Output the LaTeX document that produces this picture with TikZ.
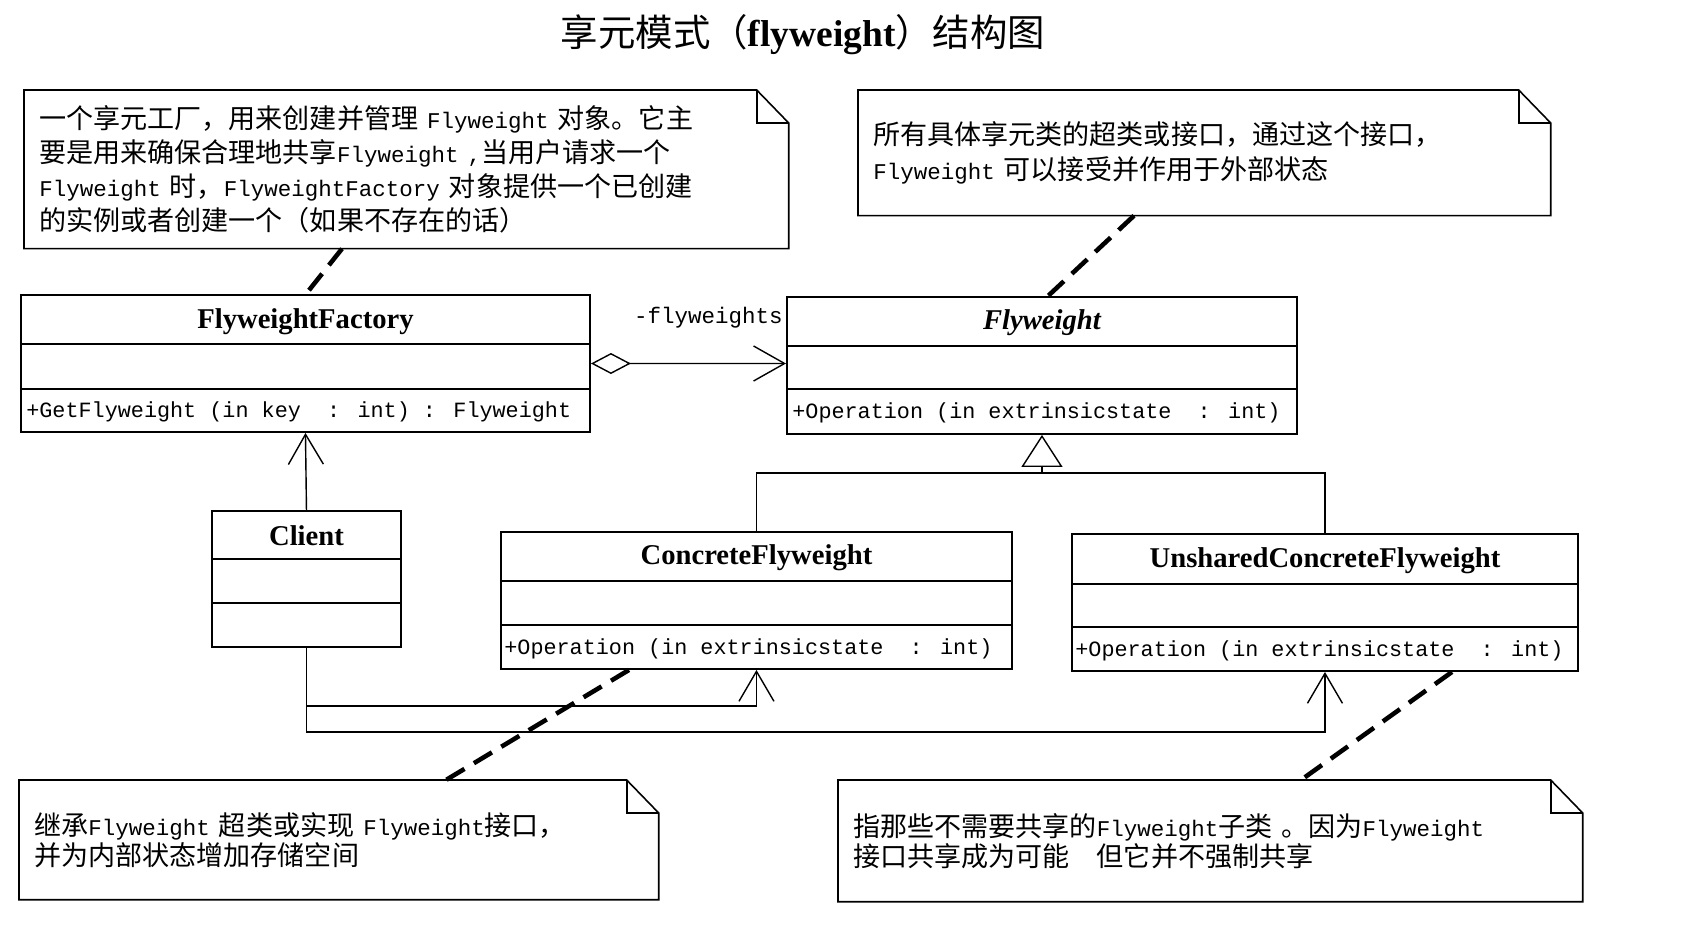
\documentclass[tikz,border=0pt]{standalone}
\usepackage{fontspec}
\setmainfont{Liberation Serif}
\newfontfamily\cjk{Noto Sans CJK SC}
\newfontfamily\monof{Liberation Mono}
\usetikzlibrary{arrows.meta,calc}
\newcommand\lat[1]{{\monof\fontsize{12.8pt}{12.8pt}\selectfont#1}}
\newcommand\dogear[1]{\draw[notefrm]($(#1.north east)+(-.64,0)$)--(#1.north west)--(#1.south west)--(#1.south east)--($(#1.north east)+(0,-.66)$)--cycle;\draw[notefrm]($(#1.north east)+(-.64,0)$)|-($(#1.north east)+(0,-.66)$);}
\tikzset{
 classbox/.style={draw,line width=1.1pt,anchor=north west,minimum height=2.74cm,inner sep=0pt},
 divline/.style={line width=1.1pt},
 cname/.style={font=\fontsize{16.3pt}{18pt}\selectfont\bfseries,inner sep=0pt},
 optext/.style={font=\monof\fontsize{12.4pt}{14pt}\selectfont,anchor=west,inner sep=0pt},
 notebox/.style={anchor=north west,inner xsep=.3cm,inner ysep=0pt,align=left,font=\cjk\fontsize{15.4pt}{#1}\selectfont},
 notefrm/.style={line width=.9pt},
 notelink/.style={line width=2.6pt,dash pattern=on .42cm off .22cm},
 conn/.style={line width=.8pt},
 barb/.style={-{Straight Barb[length=.6cm,width=.7cm]}},
}
\begin{document}
\begin{tikzpicture}
\useasboundingbox(0,0)rectangle(33.72,-18.62);
\node[font=\fontsize{21.3pt}{24pt}\selectfont](ttl)at(16.06,-.69){{\cjk 享元模式（}\textbf{flyweight}{\cjk ）结构图}};
% notes
\node[notebox=19.2pt,text width=14.68cm,minimum width=15.28cm,minimum height=3.16cm](nA)at(.48,-1.8){一个享元工厂，用来创建并管理~\lat{Flyweight}~对象。它主\\要是用来确保合理地共享\lat{Flyweight~,}当用户请求一个\\\lat{Flyweight}~时，\lat{FlyweightFactory}~对象提供一个已创建\\的实例或者创建一个（如果不存在的话）};\dogear{nA}
\node[notebox=19.4pt,text width=13.24cm,minimum width=13.84cm,minimum height=2.5cm](nB)at(17.16,-1.8){所有具体享元类的超类或接口，通过这个接口，\\\lat{Flyweight}~可以接受并作用于外部状态};\dogear{nB}
\node[notebox=17pt,text width=12.18cm,minimum width=12.78cm,minimum height=2.38cm](nC)at(.38,-15.6){继承\lat{Flyweight}~超类或实现~\lat{Flyweight}接口，\\并为内部状态增加存储空间};\dogear{nC}
\node[notebox=17pt,text width=14.28cm,minimum width=14.88cm,minimum height=2.42cm](nD)at(16.76,-15.6){指那些不需要共享的\lat{Flyweight}子类~。因为\lat{Flyweight}\\接口共享成为可能　但它并不强制共享};\dogear{nD}
% classes
\node[classbox,minimum width=11.38cm](fac)at(.4,-5.88){};
\draw[divline]($(fac.north west)+(0,-1)$)--($(fac.north east)+(0,-1)$)($(fac.north west)+(0,-1.9)$)--($(fac.north east)+(0,-1.9)$);
\node[cname](facN)at($(fac.north)+(0,-.56)$){FlyweightFactory};
\node[optext](facO)at($(fac.south west)+(.12,.42)$){+GetFlyweight (in key~~: int) : Flyweight};
\node[classbox,minimum width=10.2cm](fw)at(15.72,-5.92){};
\draw[divline]($(fw.north west)+(0,-1)$)--($(fw.north east)+(0,-1)$)($(fw.north west)+(0,-1.86)$)--($(fw.north east)+(0,-1.86)$);
\node[cname](fwN)at($(fw.north)+(0,-.54)$){\itshape Flyweight};
\node[optext](fwO)at($(fw.south west)+(.12,.44)$){+Operation (in extrinsicstate~~: int)};
\node[classbox,minimum width=3.78cm,minimum height=2.72cm](cl)at(4.22,-10.2){};
\draw[divline]($(cl.north west)+(0,-.98)$)--($(cl.north east)+(0,-.98)$)($(cl.north west)+(0,-1.86)$)--($(cl.north east)+(0,-1.86)$);
\node[cname](clN)at($(cl.north)+(0,-.52)$){Client};
\node[classbox,minimum width=10.22cm](cf)at(10,-10.62){};
\draw[divline]($(cf.north west)+(0,-1)$)--($(cf.north east)+(0,-1)$)($(cf.north west)+(0,-1.88)$)--($(cf.north east)+(0,-1.88)$);
\node[cname](cfN)at($(cf.north)+(0,-.54)$){ConcreteFlyweight};
\node[optext](cfO)at($(cf.south west)+(.08,.43)$){+Operation (in extrinsicstate~~: int)};
\node[classbox,minimum width=10.12cm](ucf)at(21.42,-10.66){};
\draw[divline]($(ucf.north west)+(0,-1.02)$)--($(ucf.north east)+(0,-1.02)$)($(ucf.north west)+(0,-1.88)$)--($(ucf.north east)+(0,-1.88)$);
\node[cname](ucfN)at($(ucf.north)+(0,-.55)$){UnsharedConcreteFlyweight};
\node[optext](ucfO)at($(ucf.south west)+(.08,.43)$){+Operation (in extrinsicstate~~: int)};
% relations
\draw[conn,{Diamond[open,length=.8cm,width=.42cm]}-{Straight Barb[length=.62cm,width=.7cm]}]($(fac.north east)+(0,-1.39)$)--($(fw.north west)+(0,-1.35)$);
\node[optext,anchor=east,font=\monof\fontsize{12.8pt}{14pt}\selectfont](lbl)at($(fw.north west)+(-.06,-.44)$){-flyweights};
\draw[conn,barb](cl.north)--(fac.south);
\draw[conn,barb](cl.south)--++(0,-1.16)-|(cf.south);
\draw[conn,barb](cl.south)--++(0,-1.68)-|(ucf.south);
\coordinate(jn)at($(fw.south)+(0,-.76)$);
\draw[conn](cf.north)|-(jn)-|(ucf.north);
\draw[conn,-{Triangle[open,length=.64cm,width=.82cm]}](jn)--(fw.south);
% note anchors
\draw[notelink]($(nA.south west)+(6.36,0)$)--($(fac.north west)+(5.72,0)$);
\draw[notelink]($(nB.south west)+(5.52,0)$)--($(fw.north west)+(5.24,0)$);
\draw[notelink]($(cf.south west)+(2.58,0)$)--($(nC.north west)+(8.54,0)$);
\draw[notelink]($(ucf.south west)+(7.62,0)$)--($(nD.north west)+(9.26,0)$);
\end{tikzpicture}
\end{document}
